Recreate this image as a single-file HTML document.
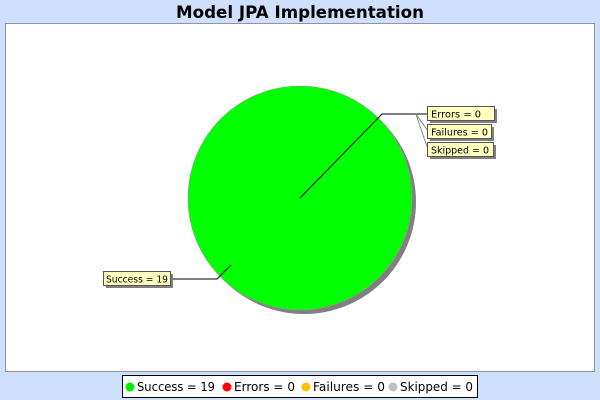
<!DOCTYPE html>
<html><head><meta charset="utf-8"><style>
body{margin:0;width:600px;height:400px;background:#cee0fc;overflow:hidden;font-family:"DejaVu Sans","Liberation Sans",sans-serif}
</style></head><body>
<svg width="600" height="400" xmlns="http://www.w3.org/2000/svg" style="position:absolute;left:0;top:0">
<text x="300" y="18" text-anchor="middle" font-family="DejaVu Sans, sans-serif" font-weight="bold" font-size="17" fill="#000" textLength="248" lengthAdjust="spacingAndGlyphs">Model JPA Implementation</text>
<rect x="5.5" y="23.5" width="589" height="348" fill="#fff" stroke="#8a96a8"/>
<circle cx="304" cy="202" r="112" fill="#808080"/>
<circle cx="300" cy="198" r="112" fill="#00ff00" stroke="#9a9a9a" stroke-width="0.6"/>
<polyline points="300,198 382,114 416,114 428,114" fill="none" stroke="#000" stroke-width="1"/>
<path d="M416,114 Q420,120 428,131" fill="none" stroke="#888"/>
<path d="M416,114 Q421,130 428,149" fill="none" stroke="#888"/>
<polyline points="231,265 217,279 172,279" fill="none" stroke="#000"/>
<g font-family="DejaVu Sans, sans-serif" font-size="9.5" fill="#000">
<rect x="430" y="109" width="67" height="14" fill="#808080"/>
<rect x="427.5" y="106.5" width="67" height="14" fill="#ffffc0" stroke="#555"/>
<text x="431" y="117.5" textLength="50" lengthAdjust="spacingAndGlyphs">Errors = 0</text>
<rect x="430" y="127" width="64" height="14" fill="#808080"/>
<rect x="427.5" y="124.5" width="64" height="14" fill="#ffffc0" stroke="#555"/>
<text x="431" y="135.5" textLength="57" lengthAdjust="spacingAndGlyphs">Failures = 0</text>
<rect x="430" y="145" width="66" height="14" fill="#808080"/>
<rect x="427.5" y="142.5" width="66" height="14" fill="#ffffc0" stroke="#555"/>
<text x="431" y="153.5" textLength="58" lengthAdjust="spacingAndGlyphs">Skipped = 0</text>
<rect x="106" y="274" width="67" height="14" fill="#808080"/>
<rect x="103.5" y="271.5" width="67" height="14" fill="#ffffc0" stroke="#555"/>
<text x="106" y="282.5" textLength="62" lengthAdjust="spacingAndGlyphs">Success = 19</text>
</g>
<rect x="122.5" y="375.5" width="355" height="22" fill="#fff" stroke="#000"/>
<g font-family="DejaVu Sans, sans-serif" font-size="12" fill="#000">
<circle cx="130" cy="387" r="4.5" fill="#00ee00"/>
<text x="137" y="391" textLength="78" lengthAdjust="spacingAndGlyphs">Success = 19</text>
<circle cx="227" cy="387" r="4.5" fill="#ff0000"/>
<text x="234" y="391" textLength="61" lengthAdjust="spacingAndGlyphs">Errors = 0</text>
<circle cx="306" cy="387" r="4.5" fill="#ffc000"/>
<text x="313" y="391" textLength="72" lengthAdjust="spacingAndGlyphs">Failures = 0</text>
<circle cx="393" cy="387" r="4.5" fill="#c0c0c0"/>
<text x="400" y="391" textLength="73" lengthAdjust="spacingAndGlyphs">Skipped = 0</text>
</g>
</svg>
</body></html>
